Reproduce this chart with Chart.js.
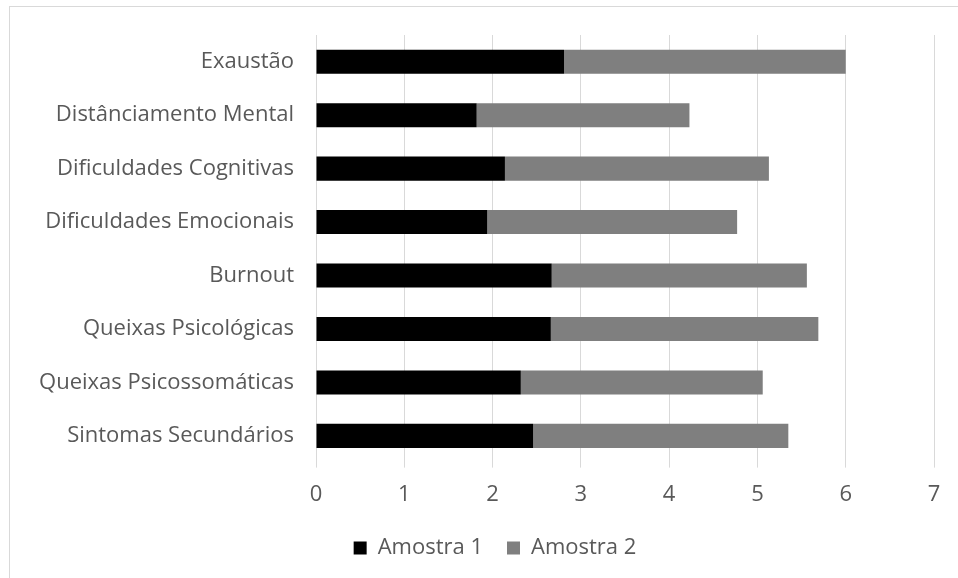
<!DOCTYPE html>
<html>
<head>
<meta charset="utf-8">
<script src="https://cdn.jsdelivr.net/npm/chart.js@4/dist/chart.umd.min.js"></script>
<style>
  html, body { margin: 0; padding: 0; background: #fff; }
  body { width: 958px; height: 578px; overflow: hidden; position: relative; }
  #frame { position: absolute; left: 9px; top: 6px; width: 1000px; height: 620px; border: 1px solid #d9d9d9; box-sizing: border-box; }
  #wrap { position: absolute; left: 0; top: 0; width: 958px; height: 578px; }
</style>
</head>
<body>
<div id="frame"></div>
<div id="wrap"><canvas id="c" width="958" height="578"></canvas></div>
<script>
const categories = [
  "Exaustão",
  "Distânciamento Mental",
  "Dificuldades Cognitivas",
  "Dificuldades Emocionais",
  "Burnout",
  "Queixas Psicológicas",
  "Queixas Psicossomáticas",
  "Sintomas Secundários"
];
const amostra1 = [2.81, 1.82, 2.14, 1.94, 2.67, 2.66, 2.32, 2.46];
const amostra2 = [3.19, 2.41, 2.99, 2.83, 2.89, 3.03, 2.74, 2.89];
const seriesNames = ["Amostra 1", "Amostra 2"];
const xMin = 0, xMax = 7, xStep = 1;

const FONT = "'Open Sans', sans-serif";
const TEXT = "#595959";
const FS = 22;

const legendShift = {
  id: "legendShift",
  afterLayout(chart) {
    const lg = chart.legend;
    if (!lg) return;
    lg.left += 28; lg.right += 28;
    lg.top -= 9; lg.bottom -= 9;
  }
};

new Chart(document.getElementById("c"), {
  type: "bar",
  data: {
    labels: categories,
    datasets: [
      { label: seriesNames[0], data: amostra1, backgroundColor: "#000000", borderWidth: 0 },
      { label: seriesNames[1], data: amostra2, backgroundColor: "#7f7f7f", borderWidth: 0 }
    ]
  },
  plugins: [legendShift],
  options: {
    indexAxis: "y",
    responsive: false,
    animation: false,
    devicePixelRatio: 1,
    categoryPercentage: 1.0,
    barPercentage: 0.45,
    layout: { padding: { top: 35, right: 24, left: 0, bottom: 0 } },
    plugins: {
      legend: {
        position: "bottom",
        labels: {
          color: TEXT,
          font: { family: FONT, size: FS },
          boxWidth: 13,
          boxHeight: 13,
          padding: 24
        }
      },
      tooltip: { enabled: false }
    },
    scales: {
      x: {
        stacked: true,
        min: xMin,
        max: xMax,
        ticks: { stepSize: xStep, color: TEXT, font: { family: FONT, size: FS }, padding: 14 },
        grid: { color: "#d9d9d9", lineWidth: 1, tickLength: 5 },
        border: { display: false }
      },
      y: {
        stacked: true,
        ticks: { color: TEXT, font: { family: FONT, size: FS }, padding: 14 },
        grid: { display: false },
        border: { display: false },
        afterFit: (scale) => { scale.width = 316; }
      }
    }
  }
});
</script>
</body>
</html>
